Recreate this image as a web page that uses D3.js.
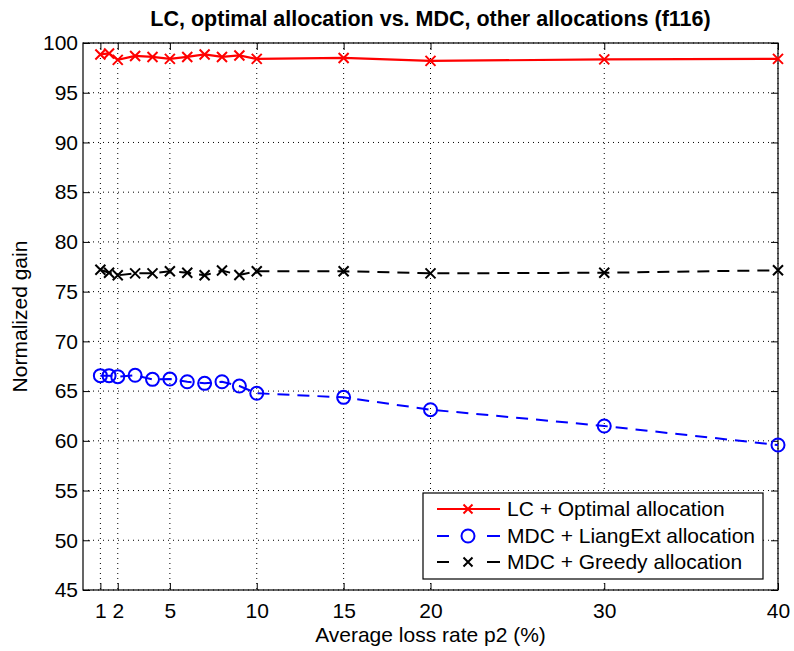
<!DOCTYPE html>
<html><head><meta charset="utf-8">
<script src="https://cdn.jsdelivr.net/npm/d3@7"></script>
<style>body{margin:0;background:#fff}svg{display:block}text{font-family:"Liberation Sans",Arial,sans-serif;fill:#000}</style>
</head><body><svg id="c" width="794" height="651"></svg>
<script>
const lossRates=[1,1.5,2,3,4,5,6,7,8,9,10,15,20,30,40];
const lcOptimal=[98.85,98.95,98.3,98.7,98.6,98.4,98.6,98.85,98.6,98.75,98.4,98.5,98.2,98.35,98.4];
const mdcLiangExt=[66.55,66.55,66.45,66.59,66.18,66.21,65.94,65.78,65.94,65.51,64.78,64.37,63.13,61.49,59.58];
const mdcGreedy=[77.2,76.9,76.64,76.84,76.84,77.05,76.9,76.64,77.12,76.67,77.05,77.05,76.84,76.9,77.15];
const xTicks=[1,2,5,10,15,20,30,40];
const yTicks=[45,50,55,60,65,70,75,80,85,90,95,100];
const seriesNames=["LC + Optimal allocation","MDC + LiangExt allocation","MDC + Greedy allocation"];
const titleText="LC, optimal allocation vs. MDC, other allocations (f116)";
const xLabel="Average loss rate p2 (%)";
const yLabel="Normalized gain";

const L=83,R=778,T=43,B=590;
const svg=d3.select("#c");
const x=d3.scaleLinear().domain([0,40]).range([L,R]);
const y=d3.scaleLinear().domain([45,100]).range([B,T]);

// grid
const g=svg.append("g");
g.selectAll("line.gx").data(xTicks).join("line")
 .attr("x1",d=>x(d)).attr("x2",d=>x(d)).attr("y1",T).attr("y2",B)
 .attr("stroke","#000").attr("stroke-width",1).attr("stroke-dasharray","1,4");
g.selectAll("line.gy").data(yTicks).join("line")
 .attr("y1",d=>y(d)).attr("y2",d=>y(d)).attr("x1",L).attr("x2",R)
 .attr("stroke","#000").attr("stroke-width",1).attr("stroke-dasharray","1,4");

// axes
const fs=21;
const ax=svg.append("g").attr("transform",`translate(0,${B})`)
 .call(d3.axisBottom(x).tickValues(xTicks).tickSizeInner(-7).tickSizeOuter(0).tickPadding(13));
const ay=svg.append("g").attr("transform",`translate(${L},0)`)
 .call(d3.axisLeft(y).tickValues(yTicks).tickSizeInner(-7).tickSizeOuter(0).tickPadding(5));
const at=svg.append("g").attr("transform",`translate(0,${T})`)
 .call(d3.axisTop(x).tickValues(xTicks).tickSizeInner(-7).tickSizeOuter(0).tickFormat(""));
const ar=svg.append("g").attr("transform",`translate(${R},0)`)
 .call(d3.axisRight(y).tickValues(yTicks).tickSizeInner(-7).tickSizeOuter(0).tickFormat(""));
[ax,ay,at,ar].forEach(a=>{a.select(".domain").remove();a.selectAll("line").attr("stroke","#000");
 a.selectAll("text").attr("font-size",fs).attr("font-family","Liberation Sans, Arial, sans-serif");});
svg.append("rect").attr("x",L).attr("y",T).attr("width",R-L).attr("height",B-T)
 .attr("fill","none").attr("stroke","#000").attr("stroke-width",1.2);

// series
const line=d3.line().x((d,i)=>x(lossRates[i])).y(d=>y(d));
function xMark(sel,cx,cy,s,col){
  sel.append("path").attr("d",`M${cx-s},${cy-s}L${cx+s},${cy+s}M${cx-s},${cy+s}L${cx+s},${cy-s}`)
   .attr("stroke",col).attr("stroke-width",2).attr("fill","none");
}
// greedy
svg.append("path").datum(mdcGreedy).attr("d",line).attr("fill","none")
 .attr("stroke","#000").attr("stroke-width",2).attr("stroke-dasharray","12,8");
mdcGreedy.forEach((v,i)=>xMark(svg,x(lossRates[i]),y(v),5,"#000"));
// liang
svg.append("path").datum(mdcLiangExt).attr("d",line).attr("fill","none")
 .attr("stroke","#0000ff").attr("stroke-width",2).attr("stroke-dasharray","12,8");
svg.selectAll("circle.m").data(mdcLiangExt).join("circle")
 .attr("cx",(d,i)=>x(lossRates[i])).attr("cy",d=>y(d)).attr("r",6.5)
 .attr("fill","none").attr("stroke","#0000ff").attr("stroke-width",2);
// lc
svg.append("path").datum(lcOptimal).attr("d",line).attr("fill","none")
 .attr("stroke","#ff0000").attr("stroke-width",2.2);
lcOptimal.forEach((v,i)=>xMark(svg,x(lossRates[i]),y(v),5,"#ff0000"));

// title and labels
svg.append("text").attr("x",(L+R)/2).attr("y",26).attr("text-anchor","middle")
 .attr("font-size",21.5).attr("font-weight","bold").text(titleText);
svg.append("text").attr("x",(L+R)/2).attr("y",642).attr("text-anchor","middle")
 .attr("font-size",fs).text(xLabel);
svg.append("text").attr("transform",`translate(27,${(T+B)/2}) rotate(-90)`).attr("text-anchor","middle")
 .attr("font-size",fs).text(yLabel);

// legend
const lg=svg.append("g");
lg.append("rect").attr("x",423).attr("y",493).attr("width",340).attr("height",86)
 .attr("fill","#fff").attr("stroke","#000").attr("stroke-width",1.2);
const rowsY=[509,536,562];
const cols=["#ff0000","#0000ff","#000"];
rowsY.forEach((ry,i)=>{
  const ln=lg.append("line").attr("x1",437).attr("x2",500).attr("y1",ry).attr("y2",ry)
   .attr("stroke",cols[i]).attr("stroke-width",2);
  if(i>0) ln.attr("stroke-dasharray","12,38,13");
  if(i===1) lg.append("circle").attr("cx",468).attr("cy",ry).attr("r",6.5).attr("fill","none").attr("stroke",cols[i]).attr("stroke-width",2);
  else xMark(lg,468,ry,4.5,cols[i]);
  lg.append("text").attr("x",507).attr("y",ry+7).attr("font-size",fs).text(seriesNames[i]);
});
</script></body></html>
